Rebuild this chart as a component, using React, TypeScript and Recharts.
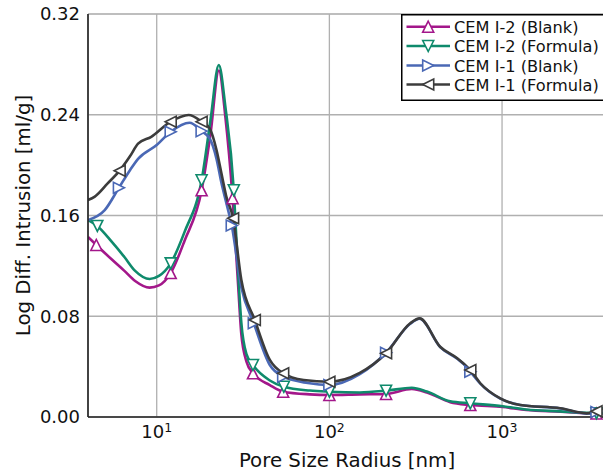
import React from 'react';
import { LineChart, Line, XAxis, YAxis, CartesianGrid } from 'recharts';

const FONT = '"DejaVu Sans", sans-serif';
const INK = '#111';

// CEM I-2 (Blank)
const i2BlankR = [4, 4.47, 5.5, 6.5, 7.5, 9.1, 10.3, 12.05, 14.5, 18.2, 20.5, 22.9, 25, 27.5, 29.6, 30.9, 33.1, 36.1, 45.2, 54, 77, 100, 150, 213, 300, 367, 501, 655, 1010, 1383, 2180, 3524, 4000];
const i2BlankV = [0.143, 0.1366, 0.125, 0.116, 0.108, 0.1027, 0.1045, 0.1143, 0.14, 0.18, 0.225, 0.275, 0.238, 0.1737, 0.105, 0.066, 0.044, 0.0347, 0.0254, 0.0201, 0.018, 0.0175, 0.018, 0.0183, 0.0222, 0.0195, 0.0118, 0.0095, 0.008, 0.0055, 0.0042, 0.0028, 0.003];
const i2BlankMarks = [4.47, 12.05, 18.2, 27.5, 36.1, 54, 100, 213, 655, 3524];

// CEM I-2 (Formula)
const i2FormR = [4, 4.53, 5.5, 6.5, 7.5, 9.1, 10.3, 12.05, 14.5, 18.2, 20.5, 22.9, 25, 27.96, 29.6, 30.9, 33.1, 36.1, 45.2, 54.5, 77, 100, 150, 213, 300, 367, 501, 655, 1010, 1383, 2180, 3524, 4000];
const i2FormV = [0.1564, 0.1517, 0.139, 0.127, 0.116, 0.1096, 0.112, 0.122, 0.147, 0.188, 0.236, 0.2795, 0.246, 0.18, 0.115, 0.075, 0.05, 0.0413, 0.029, 0.024, 0.021, 0.0201, 0.0195, 0.0209, 0.0232, 0.0202, 0.0125, 0.0109, 0.0085, 0.006, 0.0045, 0.003, 0.003];
const i2FormMarks = [4.53, 12.05, 18.2, 27.96, 36.1, 54.5, 100, 213, 655, 3524];

// CEM I-1 (Blank)
const i1BlankR = [4, 5, 6.04, 7, 7.8, 10, 12.05, 15.5, 18.2, 20.3, 22.2, 23.7, 25.3, 27.2, 30.9, 36.5, 45.2, 54, 75, 100, 150, 213, 294, 333, 438, 550, 626, 655, 748, 977, 1276, 2178, 3090, 3524, 4000];
const i1BlankV = [0.1564, 0.1643, 0.182, 0.196, 0.205, 0.216, 0.2265, 0.2337, 0.227, 0.221, 0.205, 0.186, 0.17, 0.152, 0.103, 0.0744, 0.0413, 0.032, 0.027, 0.0254, 0.034, 0.051, 0.074, 0.078, 0.0555, 0.0462, 0.0395, 0.036, 0.0265, 0.0146, 0.0095, 0.0068, 0.0028, 0.004, 0.008];
const i1BlankMarks = [6.04, 12.05, 18.2, 27.2, 36.5, 54, 100, 213, 655, 3524];

// CEM I-1 (Formula)
const i1FormR = [4, 4.38, 5.2, 6.1, 7, 7.8, 9.3, 12.05, 15.3, 18.2, 20.3, 22.2, 23.7, 25.3, 27.7, 30.9, 37, 45.2, 54, 71, 100, 150, 213, 294, 333, 438, 550, 626, 655, 748, 977, 1276, 2178, 3090, 3524, 4000];
const i1FormV = [0.1723, 0.175, 0.1855, 0.1956, 0.207, 0.217, 0.2225, 0.2345, 0.2398, 0.2345, 0.229, 0.212, 0.1935, 0.175, 0.1578, 0.109, 0.077, 0.0453, 0.0347, 0.0294, 0.028, 0.035, 0.0506, 0.0744, 0.0783, 0.0558, 0.0466, 0.04, 0.0373, 0.0268, 0.0148, 0.0095, 0.0069, 0.0029, 0.0045, 0.008];
const i1FormMarks = [6.1, 12.05, 18.2, 27.7, 37, 54, 100, 213, 655, 3524];

const xMajor = [10, 100, 1000];
const xMinor = [6, 8, 20, 40, 60, 80, 200, 400, 600, 800, 2000];
const yMajor = [0, 0.08, 0.16, 0.24, 0.32];
const yMinor = [0.04, 0.12, 0.2, 0.28];

const build = (r: number[], v: number[], marks: number[]) =>
  r.map((x, i) => ({ r: x, v: v[i], m: marks.includes(x) }));

type Shape = 'up' | 'down' | 'right' | 'left';

function triPoints(shape: Shape, cx: number, cy: number, s: number) {
  if (shape === 'up') return `${cx},${cy - s} ${cx - s},${cy + s} ${cx + s},${cy + s}`;
  if (shape === 'down') return `${cx},${cy + s} ${cx - s},${cy - s} ${cx + s},${cy - s}`;
  if (shape === 'right') return `${cx + s},${cy} ${cx - s},${cy - s} ${cx - s},${cy + s}`;
  return `${cx - s},${cy} ${cx + s},${cy - s} ${cx + s},${cy + s}`;
}

const SERIES = [
  { name: 'CEM I-2 (Blank)', color: '#a3178a', shape: 'up' as Shape, data: build(i2BlankR, i2BlankV, i2BlankMarks) },
  { name: 'CEM I-2 (Formula)', color: '#0f8a6c', shape: 'down' as Shape, data: build(i2FormR, i2FormV, i2FormMarks) },
  { name: 'CEM I-1 (Blank)', color: '#4a68b5', shape: 'right' as Shape, data: build(i1BlankR, i1BlankV, i1BlankMarks) },
  { name: 'CEM I-1 (Formula)', color: '#3c3c3c', shape: 'left' as Shape, data: build(i1FormR, i1FormV, i1FormMarks) },
];

const markerDot = (shape: Shape, color: string) => (props: any) => {
  const { cx, cy, payload, index } = props;
  if (!payload?.m || cx == null || cy == null) return <g key={index} />;
  return (
    <polygon
      key={index}
      points={triPoints(shape, cx, cy, 5.5)}
      fill="#fff"
      stroke={color}
      strokeWidth={1.6}
    />
  );
};

function PowTick({ x, y, payload }: any) {
  const exp = Math.round(Math.log10(payload.value));
  return (
    <text x={x} y={y} dy={13} textAnchor="middle" fill={INK} fontFamily={FONT} fontSize={18}>
      10
      <tspan dy={-6.5} fontSize={12.5}>
        {exp}
      </tspan>
    </text>
  );
}

function YTitle({ viewBox }: any) {
  const x = viewBox.x + 29.5;
  const y = viewBox.y + viewBox.height / 2;
  return (
    <text x={x} y={y} transform={`rotate(-90, ${x}, ${y})`} textAnchor="middle" fill={INK} fontFamily={FONT} fontSize={19.8}>
      Log Diff. Intrusion [ml/g]
    </text>
  );
}

function LegendBox() {
  const rows = [26.7, 46, 65.5, 84.5];
  return (
    <svg width={603} height={474} style={{ position: 'absolute', left: 0, top: 0, pointerEvents: 'none' }}>
      <rect x={401.75} y={14.75} width={220} height={85.5} fill="#fff" stroke="#000" strokeWidth={1.5} />
      {SERIES.map((s, i) => (
        <g key={s.name}>
          <line x1={406.5} x2={450} y1={rows[i]} y2={rows[i]} stroke={s.color} strokeWidth={2.6} />
          <polygon points={triPoints(s.shape, 428.2, rows[i], 5.5)} fill="#fff" stroke={s.color} strokeWidth={1.6} />
          <text x={454} y={rows[i] + 6} fill={INK} fontFamily={FONT} fontSize={16.2}>
            {s.name}
          </text>
        </g>
      ))}
    </svg>
  );
}

export default function App() {
  return (
    <div style={{ position: 'absolute', left: 0, top: 0, width: 603, height: 474, overflow: 'hidden', background: '#fff' }}>
      <LineChart width={612} height={474} margin={{ top: 14, right: 6, bottom: 0, left: 0 }}>
        <CartesianGrid xAxisId="minor" yAxisId="minor" stroke="#dddddd" strokeWidth={1.3} />
        <CartesianGrid stroke="#b0b0b0" strokeWidth={1.3} />
        <XAxis
          dataKey="r"
          type="number"
          scale="log"
          domain={[4, 4000]}
          allowDataOverflow
          ticks={xMajor}
          tick={<PowTick />}
          tickSize={6}
          tickLine={false}
          axisLine={{ stroke: '#222', strokeWidth: 1.6 }}
          height={57}
          label={{ value: 'Pore Size Radius [nm]', position: 'insideBottom', offset: 7.3, fill: INK, fontSize: 19.8, fontFamily: FONT }}
        />
        <XAxis xAxisId="minor" dataKey="r" type="number" scale="log" domain={[4, 4000]} allowDataOverflow ticks={xMinor} height={0} tick={false} tickLine={false} axisLine={false} />
        <XAxis xAxisId="top" orientation="top" dataKey="r" type="number" scale="log" domain={[4, 4000]} allowDataOverflow ticks={[]} height={0} tick={false} tickLine={false} axisLine={{ stroke: '#222', strokeWidth: 1.6 }} />
        <YAxis
          type="number"
          domain={[0, 0.32]}
          ticks={yMajor}
          tickFormatter={(v: number) => v.toFixed(2)}
          tick={{ fill: INK, fontSize: 18, fontFamily: FONT }}
          tickLine={false}
          axisLine={{ stroke: '#222', strokeWidth: 1.6 }}
          width={88}
          label={<YTitle />}
        />
        <YAxis yAxisId="minor" type="number" domain={[0, 0.32]} ticks={yMinor} width={0} tick={false} tickLine={false} axisLine={false} />
        {SERIES.map((s) => (
          <Line
            key={s.name}
            data={s.data}
            dataKey="v"
            name={s.name}
            type="monotone"
            stroke={s.color}
            strokeWidth={2.6}
            dot={markerDot(s.shape, s.color)}
            activeDot={false}
            isAnimationActive={false}
          />
        ))}
      </LineChart>
      <LegendBox />
    </div>
  );
}
